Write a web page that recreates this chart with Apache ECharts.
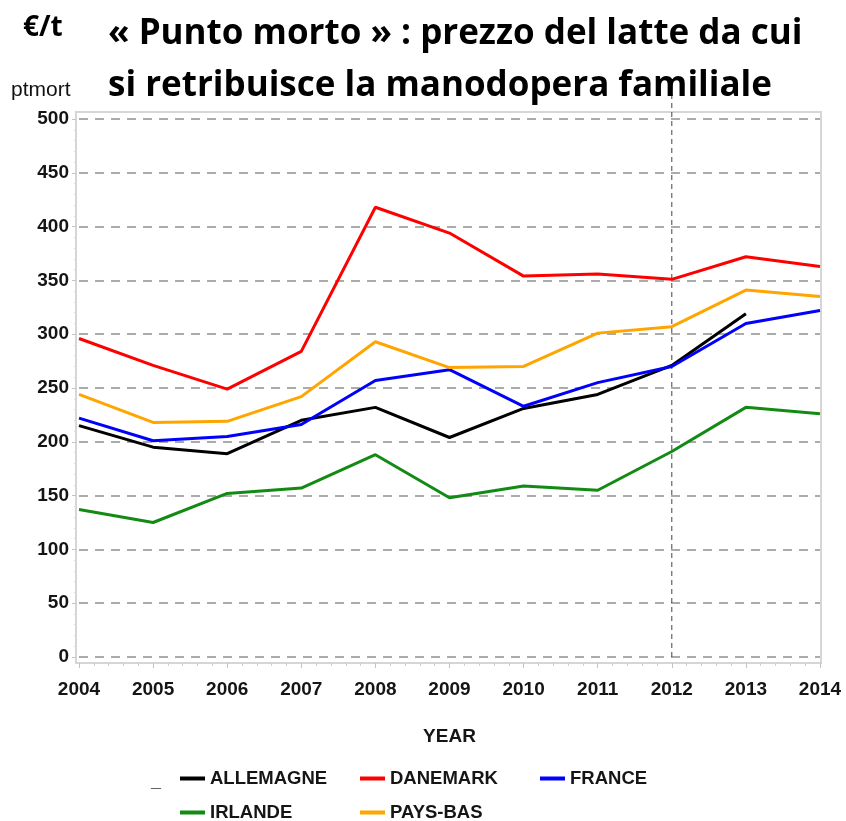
<!DOCTYPE html>
<html>
<head>
<meta charset="utf-8">
<script src="https://cdn.jsdelivr.net/npm/echarts@6/dist/echarts.min.js"></script>
<style>
  html, body { margin: 0; padding: 0; background: #fff; }
  #chart { width: 846px; height: 821px; }
</style>
</head>
<body>
<div id="chart"></div>
<script>
// Valori (€/t)
const years = [2004, 2005, 2006, 2007, 2008, 2009, 2010, 2011, 2012, 2013, 2014];
const allemagne = [215, 195, 189, 220, 232, 204, 231, 244, 271, 319, null];
const danemark = [296, 271, 249, 284, 418, 394, 354, 356, 351, 372, 363];
const france = [222, 201, 205, 216, 257, 267, 233, 255, 270, 310, 322];
const irlande = [137, 125, 152, 157, 188, 148, 159, 155, 191, 232, 226];
const paysBas = [244, 218, 219, 242, 293, 269, 270, 301, 307, 341, 335];
const markYear = 2012;

const sans = '"Liberation Sans", Arial, sans-serif';
const chart = echarts.init(document.getElementById('chart'), null, { renderer: 'canvas' });

function pairs(vals) {
  return years.map((y, i) => [y, vals[i]]);
}

function line(name, vals, color) {
  return {
    name: name,
    type: 'line',
    data: pairs(vals),
    showSymbol: false,
    symbol: 'none',
    lineStyle: { color: color, width: 3 },
    itemStyle: { color: color },
    z: 3
  };
}

const series = [
  line('ALLEMAGNE', allemagne, '#000000'),
  line('DANEMARK', danemark, '#ff0000'),
  line('FRANCE', france, '#0000ff'),
  line('IRLANDE', irlande, '#138a13'),
  line('PAYS-BAS', paysBas, '#ffa500'),
  // linea verticale tratteggiata sul 2012: sta su una griglia più alta
  // così sale fin dentro il titolo come nell'originale
  {
    name: 'guide',
    type: 'line',
    xAxisIndex: 1, yAxisIndex: 1,
    data: [[markYear, 0], [markYear, 1]],
    showSymbol: false,
    symbol: 'none',
    silent: true,
    lineStyle: { color: '#444', width: 1, type: [5, 4] },
    z: 2
  }
];

// una legenda per voce, per avere colonne fisse come nell'originale
const legendSlots = [
  ['ALLEMAGNE', 180, 769],
  ['DANEMARK', 360, 769],
  ['FRANCE', 540, 769],
  ['IRLANDE', 180, 803],
  ['PAYS-BAS', 360, 803]
];
const legends = legendSlots.map(s => ({
  data: [s[0]], left: s[1], top: s[2],
  padding: 0, itemWidth: 25, itemHeight: 4, icon: 'rect',
  textStyle: { fontFamily: sans, fontWeight: 'bold', fontSize: 18.5, color: '#151515', padding: [0, 0, 0, 0] }
}));

const hiddenAxis = {
  show: false, axisLine: { show: false }, axisTick: { show: false },
  axisLabel: { show: false }, splitLine: { show: false }
};

chart.setOption({
  backgroundColor: '#fff',
  animation: false,
  title: [
    {
      text: '« Punto morto » : prezzo del latte da cui\nsi retribuisce la manodopera familiale',
      left: 103, top: 3,
      textStyle: { fontFamily: '"Open Sans", sans-serif', fontWeight: 'bold', fontSize: 35, lineHeight: 52, color: '#000' }
    },
    {
      text: '€/t', left: 18, top: 9,
      textStyle: { fontFamily: '"Open Sans", sans-serif', fontWeight: 'bold', fontSize: 28, lineHeight: 28, color: '#000' }
    },
    {
      text: 'ptmort', left: 6, top: 75,
      textStyle: { fontFamily: sans, fontWeight: 'normal', fontSize: 21, lineHeight: 21, color: '#111' }
    },
    {
      text: '_', left: 146, top: 768,
      textStyle: { fontFamily: sans, fontWeight: 'bold', fontSize: 18, color: '#222' }
    }
  ],
  legend: legends,
  graphic: [{
    type: 'rect', silent: true, z: 0,
    shape: { x: 76, y: 112, width: 745, height: 551 },
    style: { fill: 'none', stroke: '#d6d6d6', lineWidth: 2 }
  }],
  grid: [
    { left: 79, right: 26, top: 119, bottom: 164 },
    { left: 79, right: 26, top: 86, bottom: 164 }
  ],
  xAxis: [
    {
      type: 'value',
      min: 2004, max: 2014, interval: 1,
      offset: 6,
      name: 'YEAR', nameLocation: 'middle', nameGap: 64,
      nameTextStyle: { fontFamily: sans, fontWeight: 'bold', fontSize: 19, color: '#151515' },
      axisLine: { show: true, onZero: false, lineStyle: { color: '#d6d6d6', width: 2 } },
      axisTick: { show: true, length: 5, lineStyle: { color: '#c4c4c4' } },
      minorTick: { show: true, splitNumber: 5, length: 3, lineStyle: { color: '#cfcfcf' } },
      splitLine: { show: false },
      axisLabel: {
        margin: 17, fontFamily: sans, fontWeight: 'bold', fontSize: 19, color: '#151515',
        formatter: v => String(v)
      }
    },
    Object.assign({ type: 'value', gridIndex: 1, min: 2004, max: 2014 }, hiddenAxis)
  ],
  yAxis: [
    {
      type: 'value',
      min: 0, max: 500, interval: 50,
      offset: 3,
      axisLine: { show: true, lineStyle: { color: '#d6d6d6', width: 2 } },
      axisTick: { show: true, length: 4, lineStyle: { color: '#c4c4c4' } },
      minorTick: { show: true, splitNumber: 5, length: 2, lineStyle: { color: '#dadada' } },
      splitLine: { show: true, lineStyle: { color: '#ababab', width: 2, type: [9, 7] } },
      axisLabel: { margin: 7, fontFamily: sans, fontWeight: 'bold', fontSize: 19, color: '#151515' }
    },
    Object.assign({ type: 'value', gridIndex: 1, min: 0, max: 1 }, hiddenAxis)
  ],
  series: series
});
</script>
</body>
</html>
